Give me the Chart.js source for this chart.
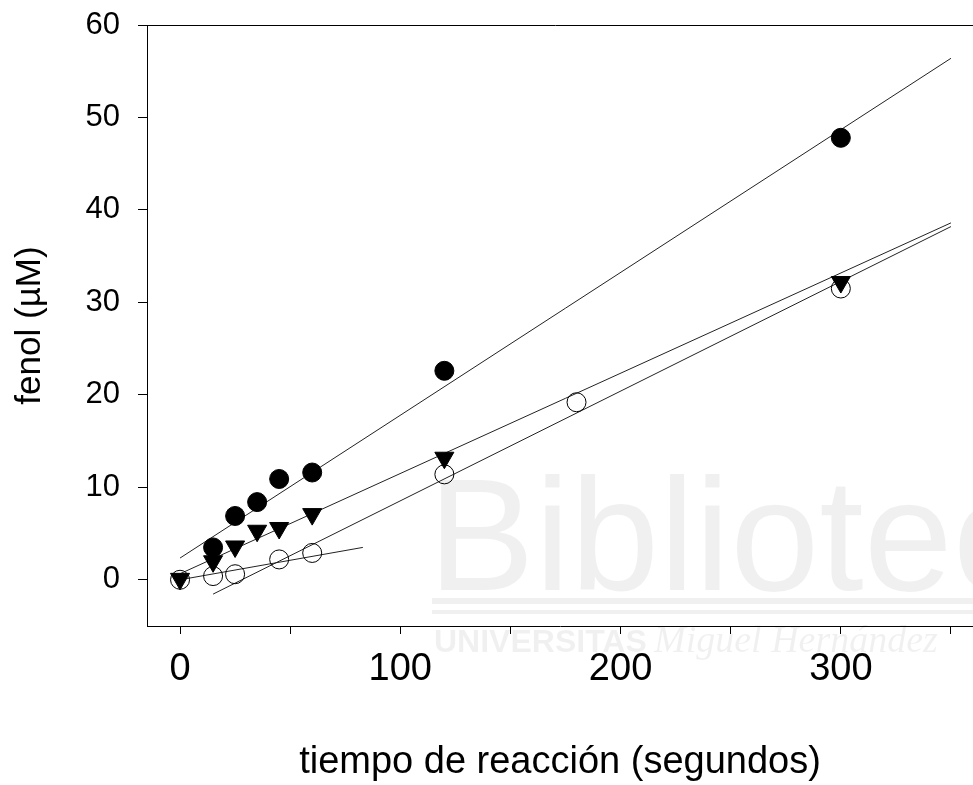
<!DOCTYPE html>
<html>
<head>
<meta charset="utf-8">
<script src="https://cdn.jsdelivr.net/npm/chart.js@4/dist/chart.umd.min.js"></script>
<style>
  html, body { margin: 0; padding: 0; background: #fff; overflow: hidden; }
  canvas { display: block; }
</style>
</head>
<body>
<canvas id="grafic" width="973" height="785"></canvas>
<script>
// dades llegides del grafic (temps en segons, fenol en uM)
const tempsPle = [15, 25, 35, 45, 60, 120, 300];
const fenolPle = [3.5, 6.9, 8.4, 10.9, 11.6, 22.6, 47.8];

const tempsTriangle = [0, 15, 25, 35, 45, 60, 120, 300];
const fenolTriangle = [0.1, 2.0, 3.6, 5.3, 5.6, 7.1, 13.2, 32.2];

const tempsBuit = [0, 15, 25, 45, 60, 120, 180, 300];
const fenolBuit = [0.0, 0.4, 0.6, 2.2, 2.9, 11.4, 19.2, 31.5];

// rectes de regressio (extrems)
const rectaPleX = [0, 350];
const rectaPleY = [2.35, 56.4];
const rectaTriangleX = [0, 350];
const rectaTriangleY = [0.65, 38.6];
const rectaBuitX = [15, 350];
const rectaBuitY = [-1.55, 38.2];
const rectaInicialX = [0, 83];
const rectaInicialY = [0.0, 3.5];

const ticksX = [0, 50, 100, 150, 200, 250, 300, 350];
const etiquetesX = [0, 100, 200, 300];
const ticksY = [0, 10, 20, 30, 40, 50, 60];

const font = 'Liberation Sans, Arial, sans-serif';

function punts(xs, ys) {
  return xs.map((x, i) => ({ x: x, y: ys[i] }));
}

function recta(xs, ys) {
  return {
    type: 'line',
    data: punts(xs, ys),
    borderColor: '#222',
    borderWidth: 1,
    pointRadius: 0,
    fill: false,
    order: 10
  };
}

// linia de dalt i marca d'aigua
const extres = {
  id: 'extres',
  beforeDraw(chart) {
    const c = chart.ctx;
    c.save();
    c.fillStyle = 'rgba(0,0,0,0.06)';
    c.font = '160px ' + font;
    c.textBaseline = 'alphabetic';
    c.fillText('Biblioteca', 428, 590);
    c.fillRect(432, 598, 560, 6);
    c.fillRect(432, 610, 560, 4);
    c.font = 'bold 32px ' + font;
    c.fillText('UNIVERSITAS', 434, 652);
    c.font = 'italic 38px Liberation Serif, serif';
    c.fillText('Miguel Hernández', 654, 652);
    c.restore();
  },
  afterDraw(chart) {
    const a = chart.chartArea;
    const c = chart.ctx;
    c.save();
    c.strokeStyle = '#000';
    c.lineWidth = 1;
    c.beginPath();
    c.moveTo(a.left - 9, a.top + 0.5);
    c.lineTo(a.right, a.top + 0.5);
    c.stroke();
    c.restore();
  }
};

new Chart(document.getElementById('grafic'), {
  type: 'scatter',
  data: {
    datasets: [
      {
        label: 'ple',
        data: punts(tempsPle, fenolPle),
        pointStyle: 'circle',
        pointRadius: 9.5,
        backgroundColor: '#000',
        borderColor: '#000',
        borderWidth: 1,
        order: 1
      },
      {
        label: 'triangle',
        data: punts(tempsTriangle, fenolTriangle),
        pointStyle: 'triangle',
        rotation: 180,
        pointRadius: 11,
        backgroundColor: '#000',
        borderColor: '#000',
        borderWidth: 1,
        order: 2
      },
      {
        label: 'buit',
        data: punts(tempsBuit, fenolBuit),
        pointStyle: 'circle',
        pointRadius: 9.5,
        backgroundColor: 'rgba(0,0,0,0)',
        borderColor: '#000',
        borderWidth: 1,
        order: 3
      },
      recta(rectaPleX, rectaPleY),
      recta(rectaTriangleX, rectaTriangleY),
      recta(rectaBuitX, rectaBuitY),
      recta(rectaInicialX, rectaInicialY)
    ]
  },
  options: {
    responsive: false,
    animation: false,
    layout: { autoPadding: false, padding: { top: 25, right: 0, left: 0, bottom: 0 } },
    plugins: {
      legend: { display: false },
      tooltip: { enabled: false }
    },
    scales: {
      x: {
        type: 'linear',
        min: -15,
        max: 360,
        afterBuildTicks: s => { s.ticks = ticksX.map(v => ({ value: v })); },
        afterFit: s => { s.height = 159; s.paddingLeft = 0; s.paddingRight = 0; },
        border: { display: true, color: '#000', width: 1 },
        grid: { drawOnChartArea: false, drawTicks: true, tickLength: 8, color: '#000' },
        ticks: {
          color: '#000',
          padding: 13,
          maxRotation: 0,
          autoSkip: false,
          font: { family: font, size: 38 },
          callback: v => etiquetesX.includes(v) ? String(v) : ''
        },
        title: {
          display: true,
          text: 'tiempo de reacción (segundos)',
          color: '#000',
          font: { family: font, size: 38 },
          padding: { top: 0, bottom: 0 }
        }
      },
      y: {
        type: 'linear',
        min: -5,
        max: 60,
        afterBuildTicks: s => { s.ticks = ticksY.map(v => ({ value: v })); },
        afterFit: s => { s.width = 147; s.paddingTop = 0; s.paddingBottom = 0; },
        border: { display: true, color: '#000', width: 1 },
        grid: { drawOnChartArea: false, drawTicks: true, tickLength: 9, color: '#000' },
        ticks: {
          color: '#000',
          padding: 18,
          font: { family: font, size: 31 }
        },
        title: {
          display: true,
          text: 'fenol (µM)',
          color: '#000',
          font: { family: font, size: 35 },
          padding: { top: 9, bottom: 0 }
        }
      }
    }
  },
  plugins: [extres]
});
</script>
</body>
</html>
